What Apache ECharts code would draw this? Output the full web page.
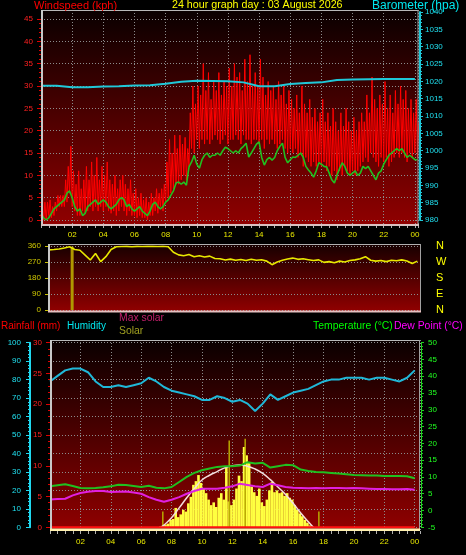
<!DOCTYPE html>
<html><head><meta charset="utf-8">
<script src="https://cdn.jsdelivr.net/npm/echarts@6/dist/echarts.min.js"></script>
<style>html,body{margin:0;padding:0;background:#000;}#c{width:466px;height:555px;}</style>
</head><body><div id="c"></div>
<script>
// ---------- tick labels ----------
const hourLabels = ['02','04','06','08','10','12','14','16','18','20','22','00'];
const compassLabels = {0:'N',90:'E',180:'S',270:'W',360:'N'};

// ---------- top panel: wind (10-minute samples from 00:00) ----------
const windHigh = [
 3,4,4,4.5,3,4,
 5.5,5.5,5.5,9,12,16.5,
 11,8,11,7,9,12,
 9,13,10,14,9,12,
 10,13,9,8,10,7,
 9,10,8,7,9,6,
 7,5,6,4.5,5,4,
 6,5,7,6,7,8,
 13,18,15,19,16,19,
 17,18.5,16,24,30,26,
 30,28,35,29,33,27,
 31,29,33,28,31,30,
 34,30,35,32,33,29,
 36,31,37,30,33,30,
 36,32,28,31,29,30,
 27,31,28,30,26,29,
 27,25,28,24,30,26,
 24,27,23,25,22,24,
 27,22,24,21,25,22,
 20,24,21,25,22,20,
 23,20,22,24,22,28,
 24,32,27,25,28,26,
 31,25,28,24,29,26,
 30,27,29,25,27,24,
 27,22];
const windLow = [
 0.5,0,0,1,0.5,1,
 2,3,3,3,4,6,
 3,2,1,1,2,1.5,
 2,3,2,3,2,3,
 2,3,2,1.5,2,1,
 2,3,2,1,2,1,
 1,0.5,1,0.5,0.5,0,
 1,1,2,1.5,3,2,
 4,5,6,7,8,8,
 9,10,9,12,16,15,
 18,16,18,17,18,17,
 18,19,18,17,18,19,
 17,18,18,19,18,17,
 19,18,18,17,18,18,
 17,18,16,18,17,18,
 17,16,17,18,16,15,
 16,15,16,14,15,12,
 14,13,12,13,12,13,
 12,13,11,12,10,11,
 9,11,10,12,11,10,
 11,10,11,12,13,14,
 13,15,14,13,12,14,
 13,14,12,13,14,15,
 14,15,14,13,15,14,
 15,14];
const windAvg = [
 1.3,0.5,0,0.5,1.5,2.5,
 3,3.5,4,4.5,6,6.5,
 5,3,2,2.5,1,1.5,
 3,3.5,4,4.5,3.5,4,
 4.5,4,3,2.5,3,3.5,
 4.5,5,4.5,3,3.5,2.5,
 2,2.5,3,2,1.5,1,
 2,3.5,4,3,2.5,3,
 4,4.5,5.5,6.5,8.3,8.5,
 8,8.5,7.8,11.9,13,14.5,
 12.5,11.6,13.5,14.5,15,14,
 14.5,14.5,15,14.5,15.5,16.3,
 16,15.5,15,15.5,15,16,
 16.5,17.2,14.1,15,16,17,
 17.5,14,12.3,13.5,14,13.4,
 14,15.5,16.5,17.2,14,12.8,
 13.5,14.1,14,14.5,15,14,
 12,11.2,10.5,9.6,11,12.8,
 12.5,12,11.9,10.5,9,8.3,
 10,11.5,12.8,12,10.5,10,
 10.5,11,10,10.5,12,11.5,
 12,11,10,9,10.5,11,
 12.5,13.5,14.5,15,15.5,16,
 15.5,16,15,14,14.5,14,
 13.5,13.5];
// barometer, hourly
const baro = [1018.7,1018.7,1018.3,1018.3,1018.5,1018.6,1018.8,1018.9,1019.3,1019.9,1020.2,1020.1,1020.0,
              1019.7,1018.6,1018.6,1019.2,1019.5,1019.7,1020.4,1020.5,1020.6,1020.7,1020.7,1020.7];

// ---------- middle panel: wind direction (20-minute samples from 00:30) ----------
const windDir = [338,340,343,349,356,340,336,309,281,318,272,300,340,356,357,358,356,358,357,359,358,357,359,356,
 325,310,305,312,300,305,298,303,290,288,281,286,280,284,278,285,280,283,275,255,270,280,287,292,
 285,288,283,278,282,268,272,266,275,270,278,282,288,300,280,275,278,272,280,277,282,276,262,275];
const dirSpikeHours = [2.0];
const dirSpikeTop = [356];

// ---------- bottom panel (half-hourly from 00:00) ----------
const humidity = [79,82,85,86,86,84,79,76,76,77,76,77,78,81,79,76,74,73,72,71,69,69,71,70,68,69,67,63,67,72,
 69,71,73,74,75,77,79,80,80,81,81,81,80,81,81,80,79,81,85];
const temperature = [7.2,7.5,7.8,7.3,6.7,6.6,6.7,6.9,7.2,7.7,7.6,7.3,7.0,7.4,6.8,6.6,7.0,8.5,10.0,11.2,12.0,12.5,
 13.0,13.2,13.2,13.4,14.4,14.0,14.2,12.8,13.2,13.6,13.5,12.2,11.8,11.5,11.4,11.2,11.0,10.8,10.6,10.5,10.4,10.4,
 10.3,10.3,10.3,10.2,9.6];
const dewPoint = [3.3,3.4,3.5,4.5,5.2,5.6,5.8,5.8,5.5,5.6,5.7,5.4,5.0,4.0,3.2,2.6,3.2,4.0,5.0,5.8,6.5,6.5,6.5,6.8,
 7.2,8.0,7.6,7.2,7.0,8.0,7.5,7.0,6.8,6.7,6.6,6.7,6.6,6.7,6.7,6.6,6.7,6.6,6.5,6.4,6.4,6.3,6.3,6.4,6.2];
// rainfall, hourly (mm)
const rainfall = [0,0,0,0,0,0,0,0,0,0,0,0,0,0,0,0,0,0,0,0,0,0,0,0,0];
// solar (W/m2), 10-minute samples from 07:20
const solarStart = 7.33;
const solar = [5,10,15,20,40,45,105,55,70,95,85,130,165,230,250,283,240,210,185,150,120,135,110,160,185,150,330,140,
 120,150,210,280,250,435,390,350,220,190,170,210,135,115,150,200,245,190,200,185,190,170,185,160,150,120,95,75,60,40,25,10,3];
const solarPeakHours = [7.33, 11.7, 12.75, 17.6];
const solarPeak = [85, 470, 480, 85];
const maxSolarHours = [7.33,7.5,8,8.5,9,9.5,10,10.5,11,11.5,12,12.5,13,13.5,14,14.5,15,15.5,16,16.5,17,17.33];
const maxSolar = [0,12,52,105,160,210,256,282,302,322,334,337,331,316,292,258,218,178,130,78,30,0];

// ---------- build data ----------
const step = 1/6;
const windRedData = [];
windHigh.forEach((v,i)=>{ windRedData.push([i*step, windLow[i]]); windRedData.push([i*step+step/2, v]); });
const windAvgData = windAvg.map((v,i)=>[i*step, v]);
const baroData = baro.map((v,i)=>[i, v]);
const dirData = windDir.map((v,i)=>[0.5+i/3, v]);
const half = a => a.map((v,i)=>[i*0.5, v]);

function fmtHour(v){
  const k = Math.round(v*1000)/1000;
  if (k > 0 && k <= 24 && Math.abs(k % 2) < 1e-6) return hourLabels[k/2-1];
  return '';
}
const plain = v => String(v);
const FONT = 'Liberation Sans, Arial, sans-serif';
const dotted = {color:'#8c8c8c', type:[1,2], width:1};
const bgGrad = (c0,c1)=>new echarts.graphic.LinearGradient(0,0,0,1,[{offset:0,color:c0},{offset:1,color:c1}]);
const hidX = (gi,min,max)=>({gridIndex:gi,type:'value',min:min,max:max,show:false,axisLine:{onZero:false}});
const hidY = (gi)=>({gridIndex:gi,type:'value',min:0,max:1,show:false,axisLine:{onZero:false}});

const chart = echarts.init(document.getElementById('c'), null, {renderer:'canvas'});
const option = {
  backgroundColor:'#000',
  animation:false,
  textStyle:{fontFamily:FONT},
  grid:[
    {left:41,right:48,top:10,height:215},        // 0 top frame
    {left:41,right:48,top:19,height:201},        // 1 wind
    {left:41,right:48,top:12,height:208},        // 2 barometer
    {left:48,right:45,top:246,height:64},        // 3 direction
    {left:50,right:46,top:340,height:191},       // 4 bottom frame
    {left:50,right:46,top:342.7,height:184.6}    // 5 bottom values
  ],
  xAxis:[
    {gridIndex:0,type:'value',min:0,max:24.2,interval:2,
     axisLine:{show:false,onZero:false},
     axisTick:{show:true,length:3,lineStyle:{color:'#b0b0b0'}},
     minorTick:{show:true,splitNumber:4,length:3,lineStyle:{color:'#b0b0b0'}},
     axisLabel:{color:'#e8e800',fontSize:8,margin:6,formatter:fmtHour,fontFamily:FONT},
     splitLine:{show:true,lineStyle:dotted}},
    hidX(1,0,24.2),
    hidX(2,0,24.2),
    hidX(3,0.45,24.4),
    {gridIndex:4,type:'value',min:0,max:24.35,interval:2,
     axisLine:{show:false,onZero:false},
     axisTick:{show:true,length:3,lineStyle:{color:'#b0b0b0'}},
     minorTick:{show:true,splitNumber:4,length:3,lineStyle:{color:'#b0b0b0'}},
     axisLabel:{color:'#e8e800',fontSize:8,margin:7,formatter:fmtHour,fontFamily:FONT},
     splitLine:{show:true,lineStyle:dotted}},
    hidX(5,0,24.35)
  ],
  yAxis:[
    hidY(0),                                                         // 0
    {gridIndex:1,type:'value',min:0,max:45,interval:5,position:'left',  // 1 wind
     axisLine:{show:false,onZero:false},
     axisTick:{show:true,length:4,lineStyle:{color:'#e00000'}},
     minorTick:{show:true,splitNumber:5,length:2,lineStyle:{color:'#e00000'}},
     axisLabel:{color:'#ff2020',fontSize:8,margin:8,fontFamily:FONT,formatter:plain},
     splitLine:{show:true,lineStyle:dotted}},
    {gridIndex:2,type:'value',min:980,max:1040,interval:5,position:'right',offset:2,   // 2 baro
     axisLine:{show:true,onZero:false,lineStyle:{color:'#20c8d8',width:2}},
     axisTick:{show:true,length:3,lineStyle:{color:'#20c8d8'}},
     minorTick:{show:true,splitNumber:5,length:2,lineStyle:{color:'#20c8d8'}},
     axisLabel:{color:'#20e0f0',fontSize:8,margin:5,fontFamily:FONT,formatter:plain},
     splitLine:{show:false}},
    {gridIndex:3,type:'value',min:0,max:360,interval:90,position:'left',   // 3 direction
     axisLine:{show:false,onZero:false},
     axisTick:{show:true,length:3,lineStyle:{color:'#c8c000'}},
     axisLabel:{color:'#d0c800',fontSize:8,margin:7,fontFamily:FONT,formatter:plain},
     splitLine:{show:true,lineStyle:dotted}},
    {gridIndex:3,type:'value',min:0,max:360,interval:90,position:'right',  // 4 compass
     axisLine:{show:false,onZero:false},axisTick:{show:false},splitLine:{show:false},
     axisLabel:{color:'#ffff00',fontSize:11,margin:15,fontFamily:FONT,
       formatter:v=>compassLabels[v] || ''}},
    hidY(4),                                                          // 5
    {gridIndex:5,type:'value',min:0,max:100,interval:10,position:'left',offset:20,  // 6 humidity
     axisLine:{show:true,onZero:false,lineStyle:{color:'#20d8f0',width:2}},
     axisTick:{show:true,length:4,lineStyle:{color:'#20d8f0'}},
     minorTick:{show:true,splitNumber:5,length:2,lineStyle:{color:'#20d8f0'}},
     axisLabel:{color:'#20e0f0',fontSize:8,margin:9,fontFamily:FONT,formatter:plain},
     splitLine:{show:true,lineStyle:dotted}},
    {gridIndex:5,type:'value',min:0,max:30,interval:5,position:'left',offset:0,   // 7 rain
     axisLine:{show:false,onZero:false},
     axisTick:{show:true,length:4,lineStyle:{color:'#e00000'}},
     minorTick:{show:true,splitNumber:5,length:2,lineStyle:{color:'#e00000'}},
     axisLabel:{color:'#ff2020',fontSize:8,margin:8,fontFamily:FONT,formatter:plain},
     splitLine:{show:false}},
    {gridIndex:5,type:'value',min:-5,max:50,interval:5,position:'right',offset:1,  // 8 temperature
     axisLine:{show:true,onZero:false,lineStyle:{color:'#20d020',width:1}},
     axisTick:{show:true,length:3,lineStyle:{color:'#20d020'}},
     minorTick:{show:true,splitNumber:5,length:2,lineStyle:{color:'#20d020'}},
     axisLabel:{color:'#20ff20',fontSize:8,margin:7,fontFamily:FONT,formatter:plain},
     splitLine:{show:false}},
    {gridIndex:5,type:'value',min:0,max:1000,show:false,axisLine:{onZero:false}}   // 9 solar
  ],
  series:[
    {name:'Windspeed gust',type:'line',xAxisIndex:1,yAxisIndex:1,data:windRedData,showSymbol:false,
     lineStyle:{color:'#ff0000',width:1},z:3},
    {name:'Windspeed',type:'line',xAxisIndex:1,yAxisIndex:1,data:windAvgData,showSymbol:false,
     lineStyle:{color:'#20c020',width:1.6},z:4},
    {name:'Barometer',type:'line',xAxisIndex:2,yAxisIndex:2,data:baroData,showSymbol:false,
     lineStyle:{color:'#20c8d8',width:2},z:5},
    {name:'Direction spike',type:'bar',xAxisIndex:3,yAxisIndex:3,barWidth:3,
     data:dirSpikeHours.map((h,i)=>[h,dirSpikeTop[i]]),itemStyle:{color:'#b09800'},z:3},
    {name:'Wind direction',type:'line',xAxisIndex:3,yAxisIndex:3,data:dirData,showSymbol:false,
     lineStyle:{color:'#e8e800',width:1.6},z:4},
    {name:'Solar',type:'bar',xAxisIndex:5,yAxisIndex:9,barWidth:2.6,
     data:solar.map((v,i)=>[solarStart+i/6,v]),itemStyle:{color:'#ffff40'},z:2},
    {name:'Solar peaks',type:'bar',xAxisIndex:5,yAxisIndex:9,barWidth:1.5,
     data:solarPeakHours.map((h,i)=>[h,solarPeak[i]]),itemStyle:{color:'#b8a800'},z:2},
    {name:'Max solar',type:'line',xAxisIndex:5,yAxisIndex:9,smooth:true,showSymbol:false,
     data:maxSolarHours.map((h,i)=>[h,maxSolar[i]]),lineStyle:{color:'#f4dede',width:1.5},z:3},
    {name:'Rainfall',type:'line',xAxisIndex:5,yAxisIndex:7,showSymbol:false,
     data:rainfall.map((v,i)=>[i,v]),lineStyle:{color:'#ff1010',width:2},z:3},
    {name:'Temperature',type:'line',xAxisIndex:5,yAxisIndex:8,showSymbol:false,
     data:half(temperature),lineStyle:{color:'#20c020',width:2},z:4},
    {name:'Dew Point',type:'line',xAxisIndex:5,yAxisIndex:8,showSymbol:false,
     data:half(dewPoint),lineStyle:{color:'#e020e0',width:2},z:4},
    {name:'Humidity',type:'line',xAxisIndex:5,yAxisIndex:6,showSymbol:false,
     data:half(humidity),lineStyle:{color:'#20b8d8',width:2},z:5}
  ],
  graphic:[
    // panel backgrounds
    {type:'rect',z:-10,shape:{x:41,y:10,width:377,height:215},style:{fill:bgGrad('#0a0000','#900000')}},
    {type:'rect',z:-10,shape:{x:48,y:245,width:373,height:66},style:{fill:bgGrad('#180000','#900000')}},
    {type:'rect',z:-10,shape:{x:50,y:340,width:370,height:191},style:{fill:bgGrad('#0a0000','#900000')}},
    // top frame
    {type:'rect',z:50,shape:{x:41,y:10,width:377,height:1},style:{fill:'#b8b8b8'}},
    {type:'rect',z:50,shape:{x:417.5,y:10,width:1,height:215},style:{fill:'#a0a0a0'}},
    {type:'rect',z:50,shape:{x:41,y:10,width:2,height:216},style:{fill:'#c8c8c8'}},
    {type:'rect',z:50,shape:{x:41,y:224,width:378,height:2},style:{fill:'#d8c0c0'}},
    // middle frame
    {type:'rect',z:50,shape:{x:48,y:244,width:373,height:1},style:{fill:'#b0b0b0'}},
    {type:'rect',z:50,shape:{x:420,y:244,width:1,height:67},style:{fill:'#a0a0a0'}},
    {type:'rect',z:50,shape:{x:48,y:244,width:2,height:68},style:{fill:'#c8c8c8'}},
    {type:'rect',z:50,shape:{x:48,y:310.5,width:373,height:2},style:{fill:'#e8c0c0'}},
    // bottom frame
    {type:'rect',z:50,shape:{x:50,y:340,width:370,height:1},style:{fill:'#b8b8b8'}},
    {type:'rect',z:50,shape:{x:419,y:340,width:1,height:191},style:{fill:'#a0a0a0'}},
    {type:'rect',z:50,shape:{x:50,y:340,width:2,height:191},style:{fill:'#c8c8c8'}},
    {type:'rect',z:50,shape:{x:50,y:528.5,width:370,height:2.5},style:{fill:'#fff0b0'}},
    // titles
    {type:'text',z:60,left:34,top:0,style:{text:'Windspeed (kph)',fill:'#ff0000',font:'11px '+FONT}},
    {type:'text',z:60,left:172,top:0,style:{text:'24 hour graph day : 03 August 2026',fill:'#ffff00',font:'10.7px '+FONT}},
    {type:'text',z:60,left:372,top:0,style:{text:'Barometer (hpa)',fill:'#00e8f0',font:'12px '+FONT}},
    {type:'text',z:60,left:1,top:321,style:{text:'Rainfall (mm)',fill:'#ff0000',font:'10px '+FONT}},
    {type:'text',z:60,left:67,top:321,style:{text:'Humidity',fill:'#00e8f0',font:'10px '+FONT}},
    {type:'text',z:60,left:119,top:313,style:{text:'Max solar',fill:'#c0206a',font:'10.4px '+FONT}},
    {type:'text',z:60,left:119,top:326,style:{text:'Solar',fill:'#a0a020',font:'10.4px '+FONT}},
    {type:'text',z:60,left:313,top:321,style:{text:'Temperature (°C)',fill:'#00ff00',font:'10.4px '+FONT}},
    {type:'text',z:60,left:394,top:321,style:{text:'Dew Point (°C)',fill:'#ff00ff',font:'10.4px '+FONT}}
  ]
};
chart.setOption(option);
</script>
</body></html>
